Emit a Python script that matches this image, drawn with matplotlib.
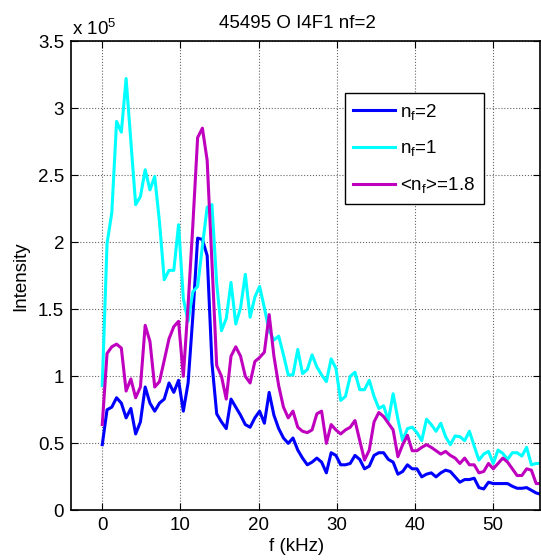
import numpy as np
import matplotlib
matplotlib.use('Agg')
import matplotlib.pyplot as plt

# spectra, intensity in units of 1e5, one value per frequency bin
df = 0.61  # kHz per bin

blue = [0.49, 0.75, 0.77, 0.84, 0.80, 0.69, 0.76, 0.57, 0.66, 0.92,
        0.80, 0.74, 0.80, 0.83, 0.95, 0.88, 0.97, 0.74, 0.95, 1.45,
        2.03, 2.02, 1.90, 1.10, 0.72, 0.66, 0.61, 0.83, 0.77, 0.71,
        0.64, 0.62, 0.69, 0.74, 0.65, 0.88, 0.71, 0.61, 0.54, 0.50,
        0.54, 0.45, 0.39, 0.34, 0.36, 0.39, 0.36, 0.28, 0.43, 0.41,
        0.34, 0.34, 0.35, 0.41, 0.38, 0.31, 0.33, 0.41, 0.43, 0.43,
        0.38, 0.36, 0.27, 0.29, 0.34, 0.31, 0.31, 0.25, 0.27, 0.28,
        0.25, 0.28, 0.30, 0.29, 0.25, 0.21, 0.23, 0.23, 0.24, 0.17,
        0.16, 0.21, 0.20, 0.20, 0.20, 0.20, 0.18, 0.165, 0.165, 0.17,
        0.15, 0.13, 0.12]

cyan = [0.93, 1.99, 2.22, 2.90, 2.82, 3.22, 2.75, 2.28, 2.34, 2.54,
        2.39, 2.49, 2.15, 1.72, 1.79, 1.79, 2.13, 1.58, 1.41, 1.63,
        1.67, 1.97, 2.26, 2.28, 1.69, 1.34, 1.43, 1.70, 1.39, 1.51,
        1.76, 1.44, 1.59, 1.67, 1.51, 1.34, 1.27, 1.30, 1.16, 1.01,
        1.01, 1.20, 1.02, 1.05, 1.16, 1.07, 1.01, 0.96, 1.13, 1.06,
        0.82, 0.85, 1.00, 1.03, 0.90, 0.90, 0.97, 0.85, 0.76, 0.78,
        0.67, 0.87, 0.68, 0.52, 0.61, 0.62, 0.58, 0.52, 0.68, 0.64,
        0.59, 0.65, 0.55, 0.49, 0.555, 0.55, 0.52, 0.59, 0.48, 0.375,
        0.42, 0.44, 0.35, 0.45, 0.425, 0.38, 0.43, 0.43, 0.405, 0.47,
        0.34, 0.35, 0.35]

magenta = [0.64, 1.17, 1.22, 1.24, 1.21, 0.89, 0.98, 0.84, 0.92, 1.38,
           1.26, 0.92, 0.96, 1.12, 1.28, 1.37, 1.41, 1.00, 1.53, 2.13,
           2.78, 2.85, 2.61, 1.85, 1.08, 1.00, 0.83, 1.15, 1.22, 1.15,
           1.00, 0.95, 1.11, 1.14, 1.18, 1.46, 1.15, 0.93, 0.77, 0.69,
           0.74, 0.62, 0.59, 0.58, 0.60, 0.72, 0.74, 0.50, 0.64, 0.60,
           0.57, 0.60, 0.62, 0.67, 0.52, 0.375, 0.45, 0.66, 0.73, 0.70,
           0.65, 0.60, 0.40, 0.49, 0.56, 0.445, 0.445, 0.47, 0.49, 0.47,
           0.445, 0.42, 0.44, 0.41, 0.39, 0.35, 0.39, 0.34, 0.34, 0.28,
           0.29, 0.35, 0.31, 0.35, 0.39, 0.36, 0.31, 0.26, 0.26, 0.31,
           0.30, 0.20, 0.20]

labels = [r'n$_{\rm f}$=2', r'n$_{\rm f}$=1', r'<n$_{\rm f}$>=1.8']
colors = ['#0000ff', '#00ffff', '#bf00bf']

FS = 13.5
plt.rcParams['font.family'] = ['Liberation Sans', 'DejaVu Sans']
plt.rcParams['mathtext.fontset'] = 'custom'
plt.rcParams['mathtext.rm'] = 'Liberation Sans'
plt.rcParams['mathtext.it'] = 'Liberation Sans'
plt.rcParams['font.size'] = FS


def main():
    freq = np.arange(len(blue)) * df

    fig = plt.figure(figsize=(5.41, 5.60), dpi=100)
    ax = fig.add_axes([71 / 541, 49.6 / 560, 469 / 541, 469.4 / 560])

    for ys, c, lab in zip([blue, cyan, magenta], colors, labels):
        ax.plot(freq, ys, color=c, lw=2.2, label=lab)

    ax.set_xlim(-4, 56)
    ax.set_ylim(0, 3.5)
    ax.set_xticks(np.arange(0, 51, 10))
    ax.set_yticks(np.arange(0, 3.51, 0.5))
    ax.set_yticklabels(['%g' % v for v in np.arange(0, 3.51, 0.5)])
    ax.tick_params(direction='in', top=True, right=True, length=5,
                   width=0.8, labelsize=FS, pad=5)
    ax.grid(True, linestyle=':', color='0.4', linewidth=0.8)
    for sp in ax.spines.values():
        sp.set_linewidth(1.2)

    xc = (297 - 71) / 469
    ax.set_title('45495 O I4F1 nf=2', x=xc, fontsize=FS, pad=9)
    ax.set_xlabel('f (kHz)', fontsize=FS)
    ax.xaxis.set_label_coords(xc, -0.058)
    ax.set_ylabel('Intensity', fontsize=FS, labelpad=6)
    ax.text(0.003, 1.004, r'x 10$^5$', transform=ax.transAxes,
            ha='left', va='bottom', fontsize=FS)

    leg = ax.legend(loc='upper left', bbox_to_anchor=(0.584, 0.889),
                    borderaxespad=0, fancybox=False, framealpha=1,
                    edgecolor='black', handlelength=2.2, handletextpad=0.3,
                    labelspacing=0.9, borderpad=0.45, fontsize=FS)
    leg.get_frame().set_linewidth(1.0)

    fig.savefig('out.png', dpi=100)
    plt.close(fig)


if __name__ == '__main__':
    main()
